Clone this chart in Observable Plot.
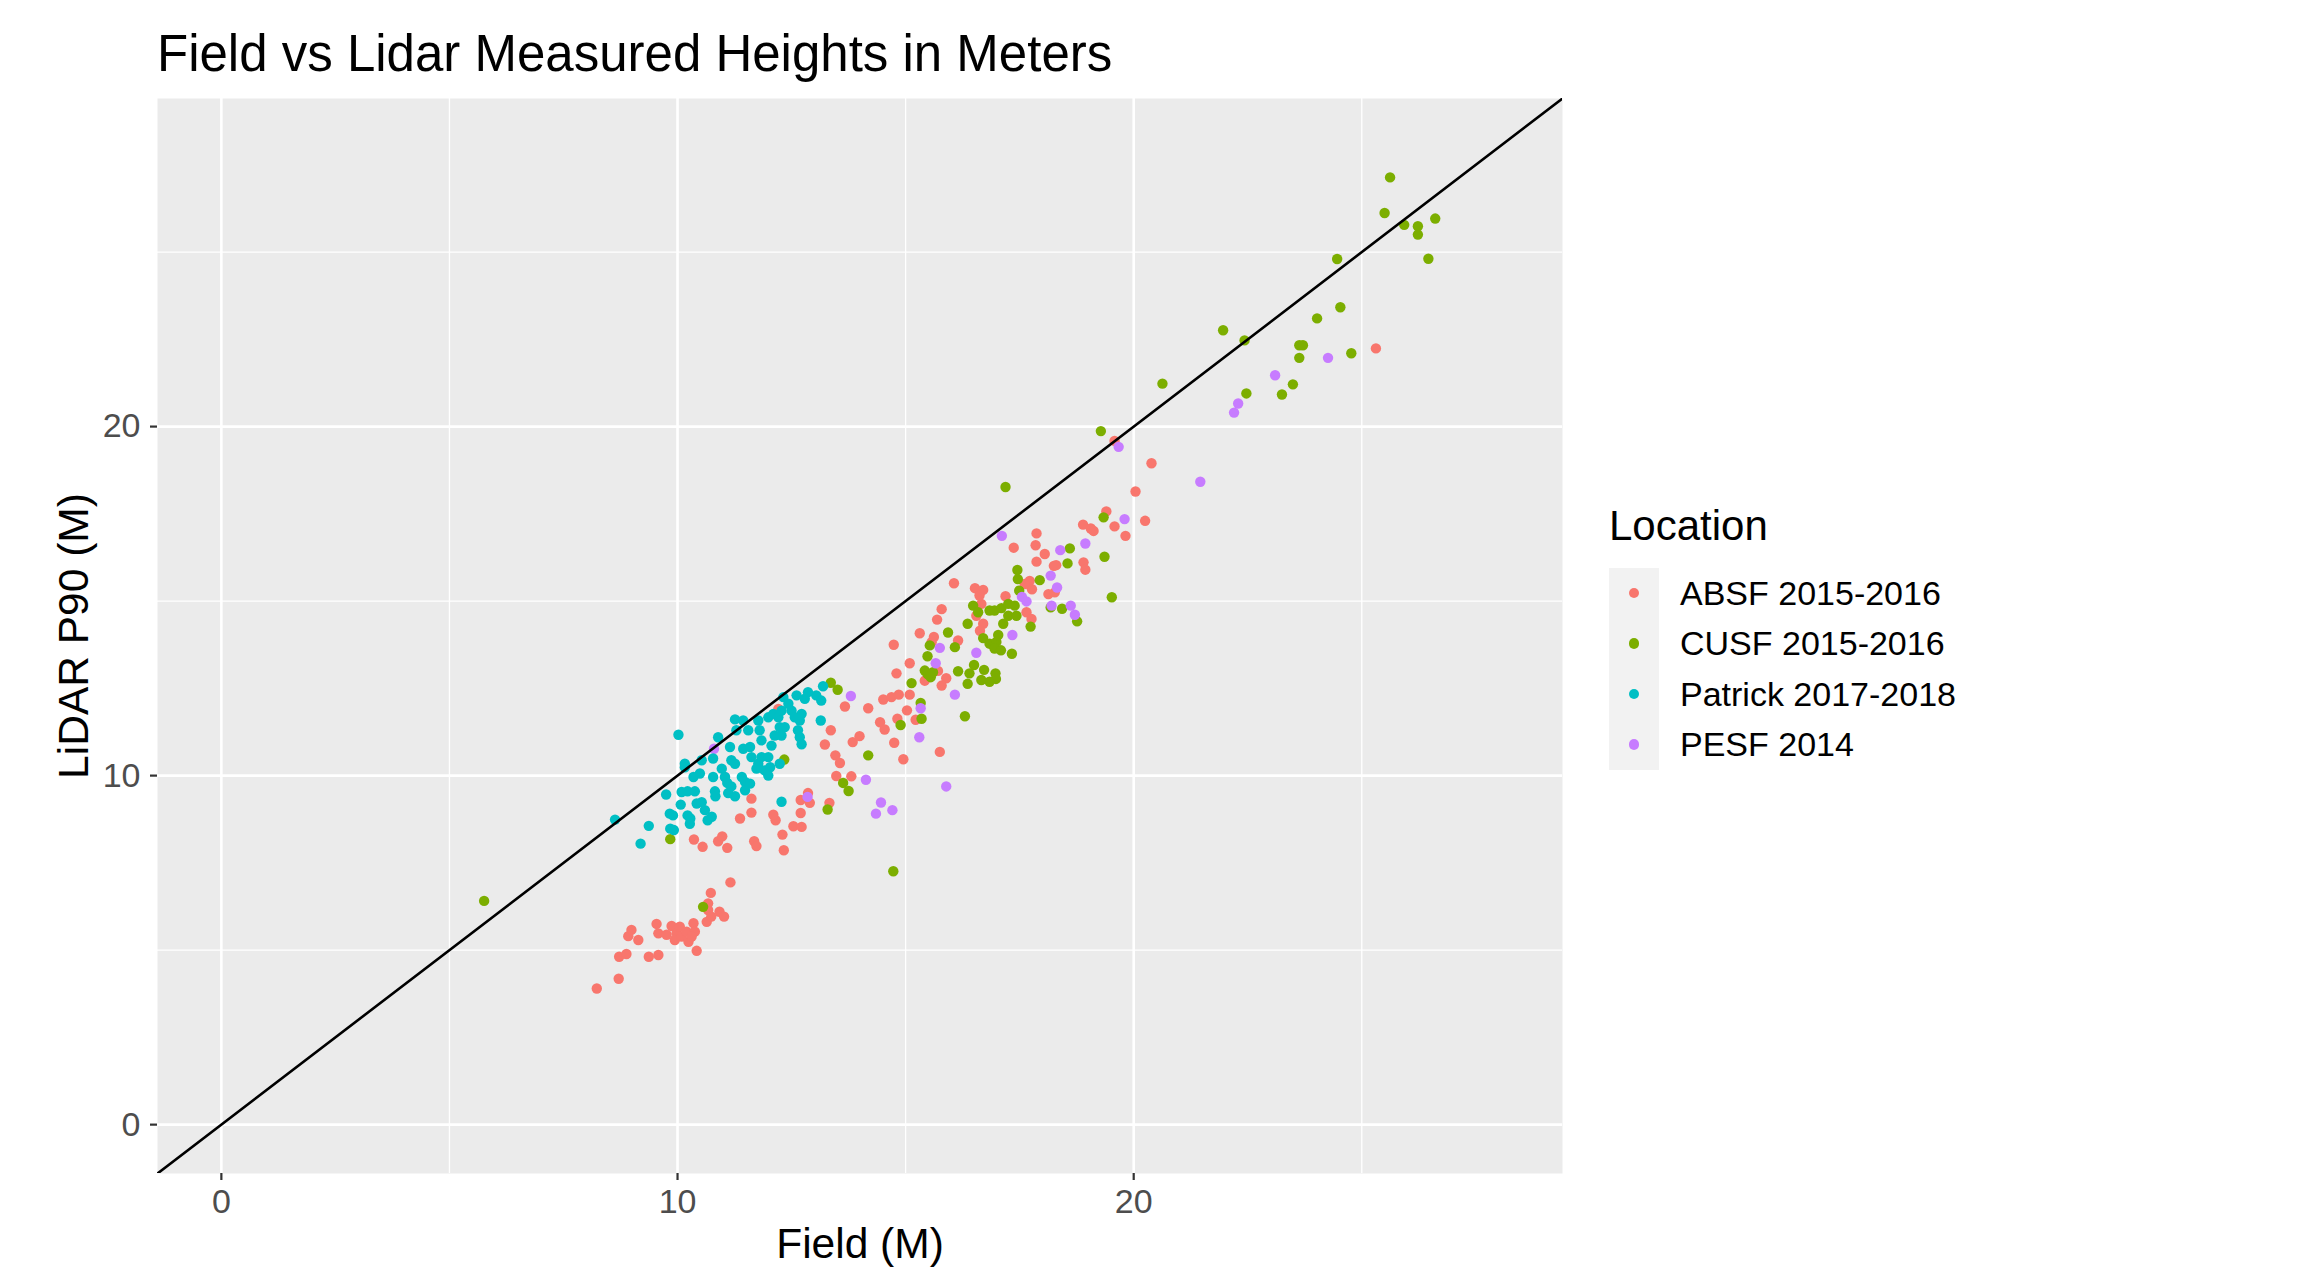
<!DOCTYPE html>
<html>
<head>
<meta charset="utf-8">
<script src="https://cdn.jsdelivr.net/npm/d3@7"></script>
<script src="https://cdn.jsdelivr.net/npm/@observablehq/plot@0.6"></script>
<style>
  html, body { margin: 0; padding: 0; background: #ffffff; }
  body { width: 2324px; height: 1267px; position: relative; overflow: hidden;
         font-family: "Liberation Sans", Arial, Helvetica, sans-serif; }
  #title { position: absolute; left: 157px; top: 28px; font-size: 51px; line-height: 51px;
           color: #000; white-space: nowrap; }
  #chart { position: absolute; left: 0; top: 90px; }
  #legend { position: absolute; left: 1609px; top: 505px; }
  #legend .ltitle { font-size: 42px; line-height: 42px; height: 63px; color: #000; white-space: nowrap; }
  #legend .row { display: flex; align-items: center; height: 50.4px; }
  #legend .key { width: 50px; height: 50.4px; background: #F2F2F2; display: flex;
                 align-items: center; justify-content: center; }
  #legend .dot { width: 10.4px; height: 10.4px; border-radius: 50%; }
  #legend .label { margin-left: 21px; font-size: 34px; line-height: 50.4px; color: #000; white-space: nowrap; }
</style>
</head>
<body>
<div id="title">Field vs Lidar Measured Heights in Meters</div>
<div id="chart"></div>
<div id="legend"></div>
<script>
// ---- Data (Field height, LiDAR P90 height) ----
const locations = ["ABSF 2015-2016", "CUSF 2015-2016", "Patrick 2017-2018", "PESF 2014"];
const colors = ["#F8766D", "#7CAE00", "#00BFC4", "#C77CFF"];

const absf = [
  [8.23,3.90],[8.71,4.18],[8.72,4.81],[8.88,4.89],[8.92,5.40],[8.99,5.58],[9.14,5.29],[9.37,4.81],
  [9.58,4.86],[9.54,5.75],[9.58,5.48],[9.76,5.44],[9.87,5.69],[9.98,5.48],[10.05,5.67],[9.94,5.29],
  [10.09,5.39],[10.20,5.53],[10.24,5.24],[10.35,5.77],[10.38,5.53],[10.42,4.98],[10.31,5.39],[10.64,5.81],
  [10.67,6.15],[10.67,6.34],[10.74,5.96],[10.73,6.64],[10.92,6.10],[11.02,5.96],[11.16,6.94],
  [10.36,8.17],[10.55,7.96],[10.89,8.12],[10.98,8.26],[11.09,7.93],[11.68,8.12],[11.73,7.98],[12.15,8.72],
  [12.30,8.31],[12.33,7.86],[12.54,8.55],[12.72,8.53],
  [11.62,9.34],[11.62,8.94],[11.37,8.77],[12.10,8.88],[12.70,9.30],[12.90,9.22],[12.86,9.50],[12.70,8.93],
  [13.33,9.22],[12.21,11.91],[13.67,11.98],[13.36,11.30],[13.23,10.89],[13.84,10.96],[13.99,11.13],
  [13.46,10.58],[13.56,10.36],[13.48,9.99],[13.81,9.98],
  [15.79,14.77],[15.69,14.47],[15.31,14.08],[15.62,13.97],[15.57,13.82],[14.74,13.75],[16.15,13.87],
  [15.09,13.22],[14.80,12.93],[15.71,13.00],[15.42,12.72],[15.89,12.79],[15.79,12.58],[15.09,12.32],
  [14.51,12.18],[14.69,12.25],[14.85,12.32],[14.18,11.93],[15.03,11.87],[14.44,11.53],[14.54,11.32],
  [14.82,11.63],[15.22,11.60],[14.75,10.94],[14.95,10.47],[15.75,10.68],[16.66,14.92],[16.70,14.35],
  [16.63,14.15],[16.55,14.58],[17.65,14.68],[17.76,14.49],
  [19.58,19.59],[20.39,18.95],[20.04,18.14],[19.40,17.57],[20.25,17.30],[18.89,17.19],[19.06,17.08],
  [19.12,17.01],[19.58,17.14],[19.82,16.87],[17.87,16.94],[17.85,16.60],[17.37,16.53],[18.05,16.35],
  [17.87,16.13],[18.25,16.01],[18.30,16.03],[18.90,16.11],[18.94,15.90],[16.06,15.51],[17.72,15.58],
  [17.77,15.34],[17.61,15.49],[18.13,15.20],[18.27,15.25],[16.52,15.37],[16.70,15.32],[16.62,15.16],
  [17.19,15.14],[25.31,22.24]
];

const cusf = [
  [5.76,6.41],[10.56,6.24],[9.84,8.18],[12.34,10.46],[13.36,12.66],[13.51,12.46],[13.63,9.79],[13.75,9.56],
  [13.29,9.03],
  [16.48,14.87],[16.59,14.68],[16.84,14.73],[16.95,14.73],[17.10,14.80],[17.25,14.92],[17.39,14.87],
  [17.25,14.58],[17.43,14.58],[17.14,14.35],[17.74,14.27],[18.18,14.82],[18.43,14.78],[18.76,14.42],
  [16.36,14.35],[15.93,14.10],[16.08,13.68],[15.53,13.73],[15.48,13.42],[15.42,13.01],[15.48,12.91],
  [15.55,12.82],[15.60,12.96],[16.70,13.94],[16.84,13.78],[16.99,13.83],[17.03,14.03],[16.95,13.64],
  [17.09,13.59],[17.33,13.49],[16.15,12.99],[16.50,13.17],[16.40,12.93],[16.72,13.03],[16.97,12.93],
  [16.98,12.77],[16.84,12.69],[16.66,12.74],[16.36,12.63],[15.13,12.65],[15.33,12.08],[15.35,11.63],
  [14.89,11.45],[16.30,11.70],[14.18,10.58],[14.73,7.26],
  [19.28,19.87],[17.19,18.27],[19.34,17.40],[19.36,16.27],[18.60,16.51],[18.55,16.08],[19.52,15.11],
  [17.45,15.89],[17.46,15.63],[17.94,15.60],[17.49,15.30],
  [25.62,27.14],[25.50,26.12],[25.93,25.78],[26.23,25.74],[26.23,25.50],[26.61,25.96],[26.46,24.81],
  [24.46,24.80],[24.53,23.42],[24.02,23.10],[21.96,22.76],[22.43,22.47],[23.63,22.33],[23.71,22.33],
  [23.63,21.97],[24.77,22.10],[20.63,21.23],[23.49,21.21],[23.25,20.92],[22.47,20.95]
];

const patrick = [
  [10.02,11.17],[9.75,9.46],[10.07,9.17],[9.83,8.91],[9.90,8.86],[10.22,8.86],[10.42,9.20],[10.53,9.24],
  [10.60,9.01],[10.75,8.82],[8.63,8.74],[10.16,10.34],[10.16,10.24],[10.09,9.53],[10.22,9.55],[10.38,9.55],
  [10.35,9.96],[10.49,10.06],[10.53,10.44],[10.78,9.96],[10.82,9.55],[10.83,9.41],[10.89,11.10],[10.78,10.49],
  [10.97,10.20],[11.04,9.96],[11.09,9.79],[11.11,9.50],[11.18,9.69],[11.26,9.41],[11.15,10.82],[11.26,11.61],
  [11.29,11.30],[11.18,10.44],[11.26,10.34],[11.41,9.96],[11.48,9.82],[11.48,9.58],[11.59,9.77],[11.44,11.58],
  [11.44,10.77],[11.55,11.30],[11.59,10.82],[11.62,10.53],[11.77,11.58],[11.80,11.30],[11.84,11.01],[11.77,10.34],
  [11.84,10.53],[11.91,10.15],[11.73,10.20],[11.99,10.53],[12.03,10.24],[11.99,10.00],[12.06,10.86],[12.13,11.15],
  [11.99,11.67],[12.10,11.77],[12.21,11.67],[12.28,11.86],[12.32,12.25],[12.43,12.06],[12.50,11.86],[12.24,11.39],
  [12.35,11.39],[12.28,11.15],[12.57,11.67],[12.68,11.58],[12.72,11.77],[12.61,12.30],[12.79,12.20],[12.86,12.39],
  [13.04,12.30],[13.15,12.15],[13.19,12.56],[12.64,11.30],[12.68,11.10],[12.72,10.90],[13.14,11.58],[12.24,10.34],
  [12.28,9.25],
  [9.37,8.56],[9.19,8.05],[9.84,8.48],[9.92,8.44],[10.27,8.62],[10.28,8.77],[10.66,8.72]
];

const pesf = [
  [10.80,10.77],[11.04,9.96],[12.85,9.39],[13.80,12.28],
  [18.20,14.87],[18.62,14.87],[18.71,14.61],[17.34,14.03],[15.75,13.66],[16.55,13.52],[15.66,13.22],
  [16.08,12.32],[15.33,11.93],[15.30,11.10],[14.13,9.88],[14.46,9.23],[14.35,8.91],[14.71,9.01],[15.89,9.69],
  [19.67,19.42],[19.80,17.35],[17.11,16.87],[18.94,16.65],[18.39,16.46],[18.18,15.73],[18.32,15.39],
  [17.55,15.12],[17.65,14.99],
  [24.26,21.97],[23.10,21.47],[22.29,20.66],[22.20,20.40],[21.46,18.42]
];

const xDomain = [-1.4, 29.4];
const yDomain = [-1.4, 29.4];
const majorTicks = [0, 10, 20];
const minorTicks = [5, 15, 25];
const xLabel = "Field (M)";
const yLabel = "LiDAR P90 (M)";
const legendTitle = "Location";

// Build table in drawing order
const series = {"ABSF 2015-2016": absf, "CUSF 2015-2016": cusf, "Patrick 2017-2018": patrick, "PESF 2014": pesf};
const drawOrder = ["ABSF 2015-2016", "CUSF 2015-2016", "PESF 2014", "Patrick 2017-2018"];
const rows = [];
for (const loc of drawOrder) for (const [f, l] of series[loc]) rows.push({field: f, lidar: l, location: loc});

// identity line y = x across the x-domain
const identity = xDomain.map(v => ({field: v, lidar: v}));

const font = '"Liberation Sans", Arial, Helvetica, sans-serif';

const chart = Plot.plot({
  width: 1600,
  height: 1177,
  marginLeft: 157,
  marginRight: 38,
  marginTop: 8,
  marginBottom: 94,
  style: {fontFamily: font, background: "transparent", overflow: "visible"},
  x: {domain: xDomain, label: null},
  y: {domain: yDomain, label: null},
  color: {domain: locations, range: colors},
  marks: [
    Plot.frame({fill: "#EBEBEB", stroke: "none"}),
    Plot.gridX(minorTicks, {stroke: "#FFFFFF", strokeOpacity: 1, strokeWidth: 1.3}),
    Plot.gridY(minorTicks, {stroke: "#FFFFFF", strokeOpacity: 1, strokeWidth: 1.3}),
    Plot.gridX(majorTicks, {stroke: "#FFFFFF", strokeOpacity: 1, strokeWidth: 2.6}),
    Plot.gridY(majorTicks, {stroke: "#FFFFFF", strokeOpacity: 1, strokeWidth: 2.6}),
    Plot.dot(rows, {x: "field", y: "lidar", fill: "location", r: 5.2, stroke: null}),
    Plot.line(identity, {x: "field", y: "lidar", stroke: "#000000", strokeWidth: 2.6, clip: true}),
    Plot.axisX(majorTicks, {tickSize: 7, tickPadding: 8, fontSize: 34, stroke: "#333333", fill: "#4D4D4D", strokeWidth: 2.2, label: null}),
    Plot.axisY(majorTicks, {tickSize: 7, tickPadding: 10, fontSize: 34, stroke: "#333333", fill: "#4D4D4D", strokeWidth: 2.2, label: null}),
    Plot.text([xLabel], {frameAnchor: "bottom", text: d => d, dy: 71, fontSize: 42.5, fill: "#000000", textAnchor: "middle", lineAnchor: "middle"}),
    Plot.text([yLabel], {frameAnchor: "left", text: d => d, dx: -83.6, rotate: -90, fontSize: 42.5, fill: "#000000", textAnchor: "middle", lineAnchor: "middle"})
  ]
});
document.getElementById("chart").appendChild(chart);

// Legend
const legend = document.getElementById("legend");
const lt = document.createElement("div");
lt.className = "ltitle";
lt.textContent = legendTitle;
legend.appendChild(lt);
locations.forEach((loc, i) => {
  const row = document.createElement("div");
  row.className = "row";
  const key = document.createElement("div");
  key.className = "key";
  const dot = document.createElement("div");
  dot.className = "dot";
  dot.style.background = colors[i];
  key.appendChild(dot);
  const lab = document.createElement("div");
  lab.className = "label";
  lab.textContent = loc;
  row.appendChild(key);
  row.appendChild(lab);
  legend.appendChild(row);
});
</script>
</body>
</html>
